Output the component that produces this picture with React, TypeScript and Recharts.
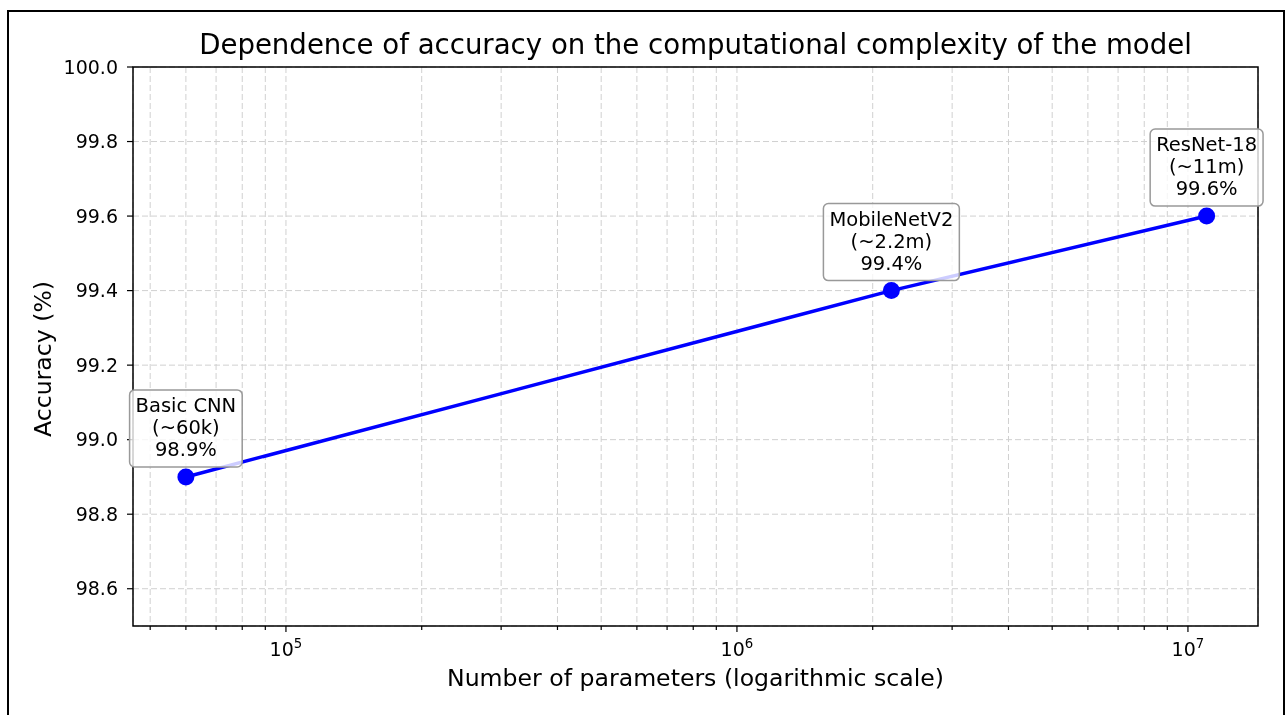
import React from 'react'
import {
  ComposedChart,
  Line,
  XAxis,
  YAxis,
  CartesianGrid,
  ReferenceArea,
  LabelList,
  Label,
} from 'recharts'

const modelNames = ['Basic CNN', 'MobileNetV2', 'ResNet-18']
const paramCounts = [60000, 2200000, 11000000]
const paramLabels = ['(~60k)', '(~2.2m)', '(~11m)']
const accuracies = [98.9, 99.4, 99.6]

const yTicks = [98.6, 98.8, 99.0, 99.2, 99.4, 99.6, 99.8, 100.0]
const majorXTicks = [1e5, 1e6, 1e7]
const minorXTicks = [
  5e4, 6e4, 7e4, 8e4, 9e4,
  2e5, 3e5, 4e5, 5e5, 6e5, 7e5, 8e5, 9e5,
  2e6, 3e6, 4e6, 5e6, 6e6, 7e6, 8e6, 9e6,
]
const xTicks = [...minorXTicks, ...majorXTicks].sort((a, b) => a - b)

const data = modelNames.map((name, i) => ({
  name,
  params: paramCounts[i],
  accuracy: accuracies[i],
}))

const FONT = '"DejaVu Sans", sans-serif'
const LINE_BLUE = '#0000ff'
const TICK_SIZE = 19
const ANNOT_SIZE = 19.5
const LABEL_SIZE = 23.6

let measureCtx: CanvasRenderingContext2D | null = null
function textWidth(s: string, size: number) {
  if (!measureCtx) {
    const c = document.createElement('canvas')
    measureCtx = c.getContext('2d')
  }
  if (!measureCtx) return s.length * size * 0.6
  measureCtx.font = `${size}px "DejaVu Sans"`
  return measureCtx.measureText(s).width
}

const XTick = (props: any) => {
  const { x, y, payload } = props
  const v = payload.value
  const major = majorXTicks.includes(v)
  return (
    <g>
      <line x1={x} x2={x} y1={y} y2={y + (major ? 6 : 4)} stroke="#000" strokeWidth={1.2} />
      {major && (
        <text x={x} y={y + 30} textAnchor="middle" fontSize={TICK_SIZE} fill="#000" fontFamily={FONT}>
          10
          <tspan fontSize={13.3} dy={-8.5}>
            {Math.round(Math.log10(v))}
          </tspan>
        </text>
      )}
    </g>
  )
}

const Annotation = (props: any) => {
  const { x, y, index } = props
  const lines = [modelNames[index], paramLabels[index], `${accuracies[index].toFixed(1)}%`]
  const w = Math.max(...lines.map((l) => textWidth(l, ANNOT_SIZE))) + 12
  const h = 77
  const bottom = y - 10
  return (
    <g>
      <rect
        x={x - w / 2}
        y={bottom - h}
        width={w}
        height={h}
        rx={5}
        ry={5}
        fill="#ffffff"
        fillOpacity={0.8}
        stroke="#999999"
        strokeWidth={1.5}
      />
      {lines.map((l, i) => (
        <text
          key={i}
          x={x}
          y={y - 65 + i * 22}
          textAnchor="middle"
          fontSize={ANNOT_SIZE}
          fill="#000"
          fontFamily={FONT}
        >
          {l}
        </text>
      ))}
    </g>
  )
}

export default function App() {
  return (
    <div style={{ position: 'relative', width: 1277, height: 699, fontFamily: FONT }}>
      <div
        style={{
          position: 'fixed',
          left: 7,
          top: 10,
          width: 1278,
          height: 800,
          border: '2px solid #000',
          boxSizing: 'border-box',
          pointerEvents: 'none',
        }}
      />
      <svg style={{ position: 'absolute', left: 0, top: 0 }} width={1277} height={60}>
        <text x={687.5} y={46} textAnchor="middle" fontSize={27.6} fill="#000" fontFamily={FONT}>
          Dependence of accuracy on the computational complexity of the model
        </text>
      </svg>
      <ComposedChart
        width={1277}
        height={699}
        data={data}
        margin={{ top: 59, right: 27, left: 65, bottom: 41 }}
      >
        <CartesianGrid stroke="#d0d0d0" strokeDasharray="6 3" strokeWidth={1} />
        <XAxis
          dataKey="params"
          type="number"
          scale="log"
          domain={[45800, 14300000]}
          allowDataOverflow
          ticks={xTicks}
          interval={0}
          tick={<XTick />}
          tickLine={false}
          tickSize={0}
          tickMargin={0}
          axisLine={false}
          height={40}
        >
          <Label
            content={(p: any) => {
              const vb = p.viewBox
              return (
                <text
                  x={vb.x + vb.width / 2}
                  y={vb.y + 60}
                  textAnchor="middle"
                  fontSize={LABEL_SIZE}
                  fill="#000"
                  fontFamily={FONT}
                >
                  Number of parameters (logarithmic scale)
                </text>
              )
            }}
          />
        </XAxis>
        <YAxis
          type="number"
          domain={[98.5, 100]}
          ticks={yTicks}
          interval={0}
          tickFormatter={(v: number) => v.toFixed(1)}
          tick={{ fill: '#000', fontSize: TICK_SIZE, fontFamily: FONT }}
          tickLine={{ stroke: '#000', strokeWidth: 1.2 }}
          tickSize={6}
          tickMargin={9}
          axisLine={false}
          width={60}
        >
          <Label
            content={() => {
              const cx = 43
              const cy = 351
              return (
                <text
                  x={cx}
                  y={cy}
                  transform={`rotate(-90 ${cx} ${cy})`}
                  textAnchor="middle"
                  fontSize={LABEL_SIZE}
                  fill="#000"
                  fontFamily={FONT}
                >
                  Accuracy (%)
                </text>
              )
            }}
          />
        </YAxis>
        <ReferenceArea
          x1={45800}
          x2={14300000}
          y1={98.5}
          y2={100}
          fill="none"
          stroke="#000"
          strokeWidth={1.5}
          ifOverflow="visible"
        />
        <Line
          dataKey="accuracy"
          stroke={LINE_BLUE}
          strokeWidth={3.5}
          dot={{ r: 8.5, fill: LINE_BLUE, stroke: 'none' }}
          activeDot={false}
          isAnimationActive={false}
        >
          <LabelList dataKey="accuracy" content={<Annotation />} />
        </Line>
      </ComposedChart>
    </div>
  )
}
